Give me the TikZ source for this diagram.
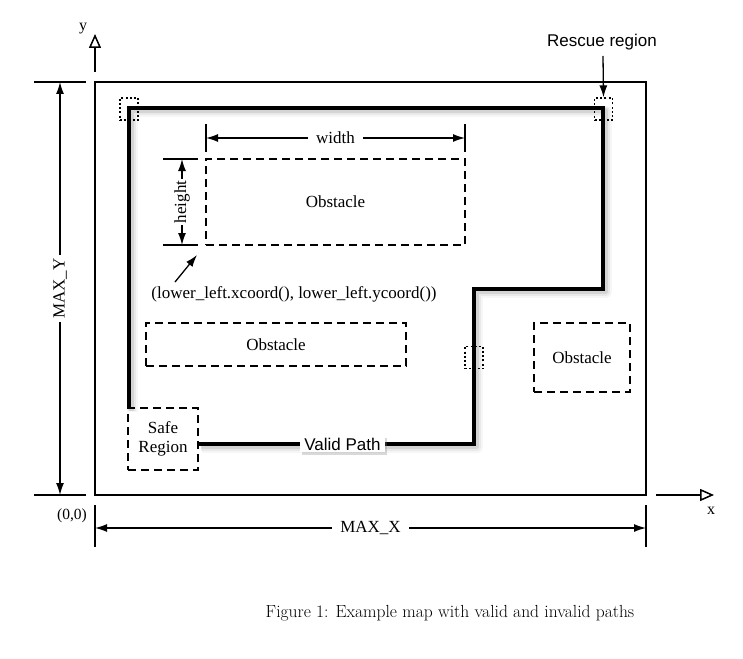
\documentclass[tikz,border=0pt]{standalone}
\usepackage{fontspec}
\newfontfamily\tms{Liberation Serif}
\newfontfamily\hlv{Liberation Sans}
\usetikzlibrary{arrows.meta,shadows,calc}
\begin{document}
\begin{tikzpicture}[x=1pt,y=-1pt,
  tfont/.style={font=\tms\fontsize{17}{19}\selectfont},
  sfont/.style={font=\hlv\fontsize{17}{19}\selectfont},
  obst/.style={draw, dash pattern=on 8pt off 5pt, line width=1.6pt, inner sep=0pt, tfont, align=center},
  cornerbox/.style={draw, dash pattern=on 2pt off 2.2pt, line width=1.3pt, minimum width=18pt, minimum height=22pt, inner sep=0pt},
  dimarrow/.style={line width=1.3pt, {Latex[length=12pt,width=8pt]}-{Latex[length=12pt,width=8pt]}},
  onearrow/.style={line width=1.3pt, -{Latex[length=12pt,width=8pt]}},
  axisarrow/.style={line width=1.3pt, -{Triangle[open,length=14pt,width=12pt,line width=1.5pt]}},
  extline/.style={line width=1.3pt},
  dimlabel/.style={tfont, fill=white, inner sep=3pt},
  route/.style={line width=3.4pt, line join=miter, line cap=butt}]
\useasboundingbox (0,0) rectangle (743,658);

% map frame
\node[draw, line width=1.3pt, minimum width=551pt, minimum height=413pt, inner sep=0pt] (map) at (370.5,288.5) {};

% axes
\coordinate (ybase) at (95,72);
\coordinate (ytip) at (95,34);
\draw[axisarrow] (ybase) -- (ytip);
\node[font=\tms\fontsize{16}{18}\selectfont] (ylab) at (83,29) {y};
\coordinate (xbase) at (656,495);
\coordinate (xtip) at (714,495);
\draw[axisarrow] (xbase) -- (xtip);
\node[font=\tms\fontsize{16}{18}\selectfont] (xlab) at (711,511) {x};
\node[font=\tms\fontsize{15.5}{17}\selectfont] (origin) at (72,516) {(0,0)};

% MAX_Y dimension
\coordinate (my1a) at (34,82); \coordinate (my1b) at (86,82);
\coordinate (my2a) at (34,495); \coordinate (my2b) at (86,495);
\draw[extline] (my1a) -- (my1b);
\draw[extline] (my2a) -- (my2b);
\coordinate (mytop) at (60,82); \coordinate (mybot) at (60,495);
\draw[dimarrow] (mytop) -- (mybot) node[midway, dimlabel, rotate=90] (maxy) {MAX\_Y};

% MAX_X dimension
\coordinate (mx1a) at (95,505); \coordinate (mx1b) at (95,547);
\coordinate (mx2a) at (646,505); \coordinate (mx2b) at (646,547);
\draw[extline] (mx1a) -- (mx1b);
\draw[extline] (mx2a) -- (mx2b);
\coordinate (mxl) at (95,528); \coordinate (mxr) at (646,528);
\draw[dimarrow] (mxl) -- (mxr) node[midway, dimlabel, inner xsep=8pt] (maxx) {MAX\_X};

% obstacles and safe region
\node[obst, minimum width=259pt, minimum height=86pt] (ob1) at (335.5,202) {Obstacle};
\node[obst, minimum width=260pt, minimum height=43pt] (ob2) at (276,344.5) {Obstacle};
\node[obst, minimum width=96pt, minimum height=69pt] (ob3) at (582,357.5) {Obstacle};
\node[obst, minimum width=70pt, minimum height=62pt] (sr) at (163,439) {Safe\\Region};

% width dimension
\coordinate (w1a) at (206,124); \coordinate (w1b) at (206,152);
\coordinate (w2a) at (465,124); \coordinate (w2b) at (465,152);
\draw[extline] (w1a) -- (w1b);
\draw[extline] (w2a) -- (w2b);
\coordinate (wl) at (206,138); \coordinate (wr) at (465,138);
\draw[dimarrow] (wl) -- (wr) node[midway, dimlabel, inner xsep=8pt] (wlab) {width};

% height dimension
\coordinate (h1a) at (163,159); \coordinate (h1b) at (198,159);
\coordinate (h2a) at (163,245); \coordinate (h2b) at (198,245);
\draw[extline] (h1a) -- (h1b);
\draw[extline] (h2a) -- (h2b);
\coordinate (ht) at (182,159); \coordinate (hb) at (182,245);
\draw[dimarrow] (ht) -- (hb) node[midway, dimlabel, rotate=90, inner sep=2pt] (hlab) {height};

% lower-left pointer
\node[tfont] (ll) at (294,294) {(lower\_left.xcoord(), lower\_left.ycoord())};
\coordinate (llfrom) at (175,282);
\coordinate (llto) at (197,255);
\draw[onearrow] (llfrom) -- (llto);

% route corners
\coordinate (p0) at (129,408);
\coordinate (p1) at (129,108);
\coordinate (p2) at (603,108);
\coordinate (p3) at (603,289);
\coordinate (p4) at (474,289);
\coordinate (p5) at (474,444);
\coordinate (p6) at (198,444);

% route shadow
\foreach \w/\o/\s in {11/0.035/3.5, 8/0.05/3, 5/0.09/2.5} {
  \draw[line width=\w pt, opacity=\o, line join=round, transform canvas={shift={(\s,\s)}}]
    (p0) -- (p1) -- (p2) -- (p3) -- (p4) -- (p5) -- (p6);
}
% route
\draw[route] (p0) -- (p1) -- (p2) -- (p3) -- (p4) -- (p5) -- (p6);

% dotted corner markers
\node[cornerbox] (c1) at (129,109) {};
\node[cornerbox] (c2) at (603.5,109) {};
\node[cornerbox] (c3) at (474,357.5) {};

% valid path label
\node[sfont, fill=white, inner xsep=4pt, inner ysep=2pt, drop shadow={shadow xshift=2pt, shadow yshift=-2.5pt, opacity=0.3}] (vp) at (342.5,444) {Valid Path};

% rescue region
\node[sfont] (rescue) at (602,42) {Rescue region};
\coordinate (rfrom) at (603,56);
\draw[onearrow] (rfrom) -- (c2.north);

% caption
\node[font=\fontsize{17.5}{21}\selectfont] (cap) at (450,613) {Figure 1: Example map with valid and invalid paths};
\end{tikzpicture}
\end{document}
